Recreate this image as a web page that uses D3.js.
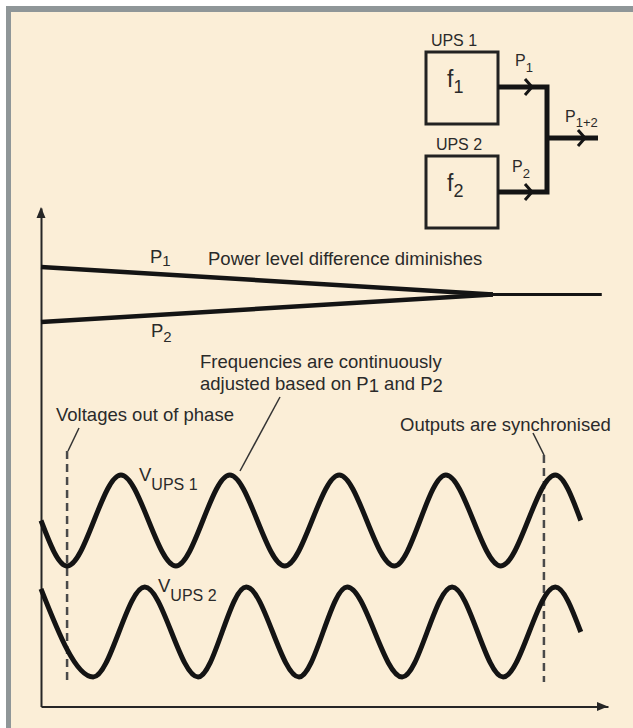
<!DOCTYPE html>
<html><head><meta charset="utf-8">
<script src="https://cdn.jsdelivr.net/npm/d3@7"></script>
<style>body{margin:0;background:#fff}svg{display:block}</style>
</head><body>
<script>
// ---- data (time in arbitrary units 0..100, values normalised) ----
const tV1 = [0, 4.6, 14.1, 23.8, 33.3, 43.0, 52.6, 62.3, 71.4, 81.1, 90.7, 95.2];
const vV1 = [0, -1, 1, -1, 1, -1, 1, -1, 1, -1, 1, 0];
const tV2 = [0, 9.2, 18.3, 27.7, 36.2, 45.5, 54.0, 63.7, 72.5, 81.5, 90.7, 95.2];
const vV2 = [0.96, -1, 1, -1, 1, -1, 1, -1, 1, -1, 1, 0];
const tPower = [0, 79.7];
const p1 = [60, 50];
const p2 = [40, 50];
const tMerged = [79.7, 98.9];
const pMerged = [50, 50];
const markerT = [4.6, 88.7];

const W = 633, H = 728;
const FONT = "'Liberation Sans', Arial, sans-serif";
const INK = "#141414", TXT = "#2a2a2a";

const svg = d3.select("body").append("svg").attr("width", W).attr("height", H);

// background & frame
svg.append("rect").attr("x", 6).attr("y", 6).attr("width", W - 6).attr("height", H - 6).attr("fill", "#fbeed7");
svg.append("rect").attr("x", 6).attr("y", 6).attr("width", W - 6).attr("height", 6).attr("fill", "#8f9698");
svg.append("rect").attr("x", 6).attr("y", 6).attr("width", 5).attr("height", H - 6).attr("fill", "#8f9698");

const x = d3.scaleLinear().domain([0, 100]).range([41, 608]);
const yP = d3.scaleLinear().domain([40, 60]).range([322, 267]);
const yV1 = d3.scaleLinear().domain([-1, 1]).range([566, 475]);
const yV2 = d3.scaleLinear().domain([-1, 1]).range([677, 587]);
const yAx = d3.scaleLinear().domain([0, 1]).range([706.5, 208]);

// axes
const gx = svg.append("g").attr("transform", "translate(0,706.5)")
  .call(d3.axisBottom(x).tickValues([]).tickSizeOuter(0));
const gy = svg.append("g").attr("transform", "translate(41,0)")
  .call(d3.axisLeft(yAx).tickValues([]).tickSizeOuter(0));
[gx, gy].forEach(g => g.select(".domain").attr("stroke", "#262626").attr("stroke-width", 2));
svg.append("path").attr("d", `M608,706.5 L597,702 L597,711 Z`).attr("fill", "#262626");
svg.append("path").attr("d", `M41,207 L36.5,218 L45.5,218 Z`).attr("fill", "#262626");

// power lines
const lineP = d3.line().x(d => x(d[0])).y(d => yP(d[1]));
svg.append("path").attr("d", lineP(d3.zip(tPower, p1))).attr("fill", "none").attr("stroke", INK).attr("stroke-width", 4.5);
svg.append("path").attr("d", lineP(d3.zip(tPower, p2))).attr("fill", "none").attr("stroke", INK).attr("stroke-width", 4.5);
svg.append("path").attr("d", lineP(d3.zip(tMerged, pMerged))).attr("fill", "none").attr("stroke", INK).attr("stroke-width", 3);

// dashed markers
markerT.forEach((t, i) => {
  svg.append("line").attr("x1", x(t)).attr("x2", x(t)).attr("y1", i === 0 ? 451 : 455).attr("y2", 682)
    .attr("stroke", "#4a4a4a").attr("stroke-width", 2.5).attr("stroke-dasharray", "8,5");
});

// voltage waves
const lineV1 = d3.line().x(d => x(d[0])).y(d => yV1(d[1])).curve(d3.curveMonotoneX);
const lineV2 = d3.line().x(d => x(d[0])).y(d => yV2(d[1])).curve(d3.curveMonotoneX);
svg.append("path").attr("d", lineV1(d3.zip(tV1, vV1))).attr("fill", "none").attr("stroke", INK).attr("stroke-width", 5);
svg.append("path").attr("d", lineV2(d3.zip(tV2, vV2))).attr("fill", "none").attr("stroke", INK).attr("stroke-width", 5);

// leader lines
const lead = (x1, y1, x2, y2) => svg.append("line").attr("x1", x1).attr("y1", y1).attr("x2", x2).attr("y2", y2)
  .attr("stroke", "#333").attr("stroke-width", 1.5);
lead(79, 428, 68, 451);
lead(533, 433, 544, 455);
lead(280, 397, 240, 471);

// text helper: parts = [[text, isSub], ...]
function rich(px, py, parts, size, subSize, subDy, anchor) {
  const t = svg.append("text").attr("x", px).attr("y", py).attr("font-family", FONT)
    .attr("font-size", size).attr("fill", TXT).attr("text-anchor", anchor || "start");
  let cur = 0;
  parts.forEach(([s, sub]) => {
    const dy = sub ? subDy - cur : -cur;
    cur = sub ? subDy : 0;
    t.append("tspan").attr("dy", dy).attr("font-size", sub ? subSize : size).text(s);
  });
  return t;
}

rich(150, 263, [["P", false], ["1", true]], 18.5, 15, 3);
rich(151, 337, [["P", false], ["2", true]], 18.5, 15, 5);
rich(208, 265, [["Power level difference diminishes", false]], 18.5);
rich(200, 368, [["Frequencies are continuously", false]], 18.5);
rich(200, 390, [["adjusted based on P", false], ["1", true], [" and P", false], ["2", true]], 18.5, 18.5, 2);
rich(56, 421, [["Voltages out of phase", false]], 18.5);
rich(400, 431, [["Outputs are synchronised", false]], 18.5);
rich(139, 481, [["V", false], ["UPS 1", true]], 18.5, 16, 9);
rich(158, 592, [["V", false], ["UPS 2", true]], 18.5, 16, 9);

// block diagram
const box = (bx, by) => svg.append("rect").attr("x", bx).attr("y", by).attr("width", 72).attr("height", 72)
  .attr("fill", "none").attr("stroke", "#222").attr("stroke-width", 3);
box(426, 52);
box(426, 156);
rich(454, 46, [["UPS 1", false]], 16, 16, 0, "middle");
rich(459, 150, [["UPS 2", false]], 16, 16, 0, "middle");
rich(447, 87, [["f", false], ["1", true]], 23, 18, 6);
rich(447, 191, [["f", false], ["2", true]], 23, 18, 6);

const thick = (d, w) => svg.append("path").attr("d", d).attr("fill", "none").attr("stroke", INK)
  .attr("stroke-width", w).attr("stroke-linejoin", "miter").attr("stroke-linecap", "butt");
thick("M498,87 H547 V192 H498", 5);
thick("M547,138 H598", 5);
thick("M525,79 L532,87 L525,95", 3);
thick("M525,184 L532,192 L525,200", 3);
thick("M578,130 L585,138 L578,146", 3);
rich(515, 66, [["P", false], ["1", true]], 16, 13, 6);
rich(512, 172, [["P", false], ["2", true]], 16, 13, 6);
rich(565, 122, [["P", false], ["1+2", true]], 16, 13, 5);
</script>
</body></html>
